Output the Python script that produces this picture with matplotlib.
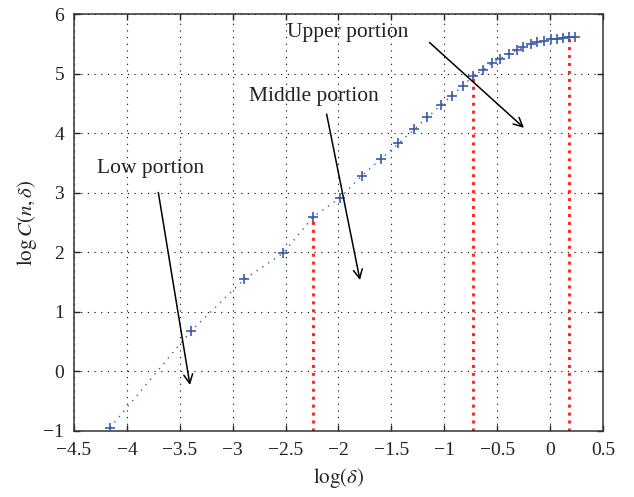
import matplotlib
matplotlib.use("Agg")
import matplotlib.pyplot as plt

plt.rcParams['font.family'] = ['Liberation Serif', 'DejaVu Serif']
plt.rcParams['mathtext.fontset'] = 'stix'

log_delta = [-4.16, -3.394, -2.890, -2.527, -2.238, -1.986, -1.781, -1.601,
             -1.434, -1.286, -1.160, -1.030, -0.927, -0.823, -0.729, -0.637,
             -0.552, -0.470, -0.392, -0.316, -0.253, -0.183, -0.121, -0.057,
             0.010, 0.066, 0.119, 0.174, 0.240]
log_C = [-0.945, 0.678, 1.55, 1.98, 2.596, 2.915, 3.284, 3.564,
         3.827, 4.062, 4.263, 4.478, 4.630, 4.797, 4.957, 5.057,
         5.175, 5.253, 5.334, 5.393, 5.443, 5.493, 5.525, 5.555,
         5.577, 5.588, 5.603, 5.610, 5.612]

split_x = [-2.238, -0.729, 0.174]
split_y = [2.596, 4.957, 5.610]

xticks = [-4.5, -4, -3.5, -3, -2.5, -2, -1.5, -1, -0.5, 0, 0.5]
yticks = [-1, 0, 1, 2, 3, 4, 5, 6]

labels = ["Low portion", "Middle portion", "Upper portion"]
label_pos = [(-4.28, 3.41), (-2.85, 4.61), (-2.49, 5.69)]
arrow_start = [(-3.703, 3.005), (-2.112, 4.319), (-1.140, 5.522)]
arrow_end = [(-3.404, -0.228), (-1.797, 1.533), (-0.247, 4.089)]

fig = plt.figure(figsize=(6.34, 4.97), dpi=100)
ax = fig.add_axes([0.1167, 0.1328, 0.8344, 0.839])

blue = '#3a5aaa'
red = '#ff2a2a'

for xs, ys in zip(split_x, split_y):
    ax.plot([xs, xs], [-1, ys], color=red, linestyle=(0, (1, 1.6)),
            linewidth=2.2, zorder=2)

ax.plot(log_delta, log_C, color=blue, linestyle=(0, (1, 4)), linewidth=1.0,
        marker='+', markersize=7.5, markeredgewidth=1.2, zorder=3)

for lab, (lx, ly), s, e in zip(labels, label_pos, arrow_start, arrow_end):
    ax.text(lx, ly, lab, fontsize=15.5, ha='left', va='center', color='#222222')
    ax.annotate('', xy=e, xytext=s,
                arrowprops=dict(arrowstyle='->', color='black', lw=1.1,
                                mutation_scale=16, shrinkA=0, shrinkB=0))

ax.set_xlim(-4.5, 0.5)
ax.set_ylim(-1, 6)
ax.set_xticks(xticks)
ax.set_yticks(yticks)
ax.set_xticklabels(['\u22124.5', '\u22124', '\u22123.5', '\u22123', '\u22122.5',
                    '\u22122', '\u22121.5', '\u22121', '\u22120.5', '0', '0.5'])
ax.set_yticklabels(['\u22121', '0', '1', '2', '3', '4', '5', '6'])
ax.grid(True, color='black', linestyle=(0, (1, 5)), linewidth=0.8)
ax.tick_params(direction='in', top=True, right=True, labelsize=14,
               length=4, width=1, colors='#222222')
ax.tick_params(axis='x', pad=8)
ax.tick_params(axis='y', pad=7)
for sp in ax.spines.values():
    sp.set_linewidth(1.1)
    sp.set_color('#333333')

ax.set_xlabel(r'$\log(\delta)$', fontsize=15, color='#222222', labelpad=5)
ax.set_ylabel(r'$\log C(n,\delta)$', fontsize=15, color='#222222', labelpad=3)

fig.savefig('out.png', dpi=100)
